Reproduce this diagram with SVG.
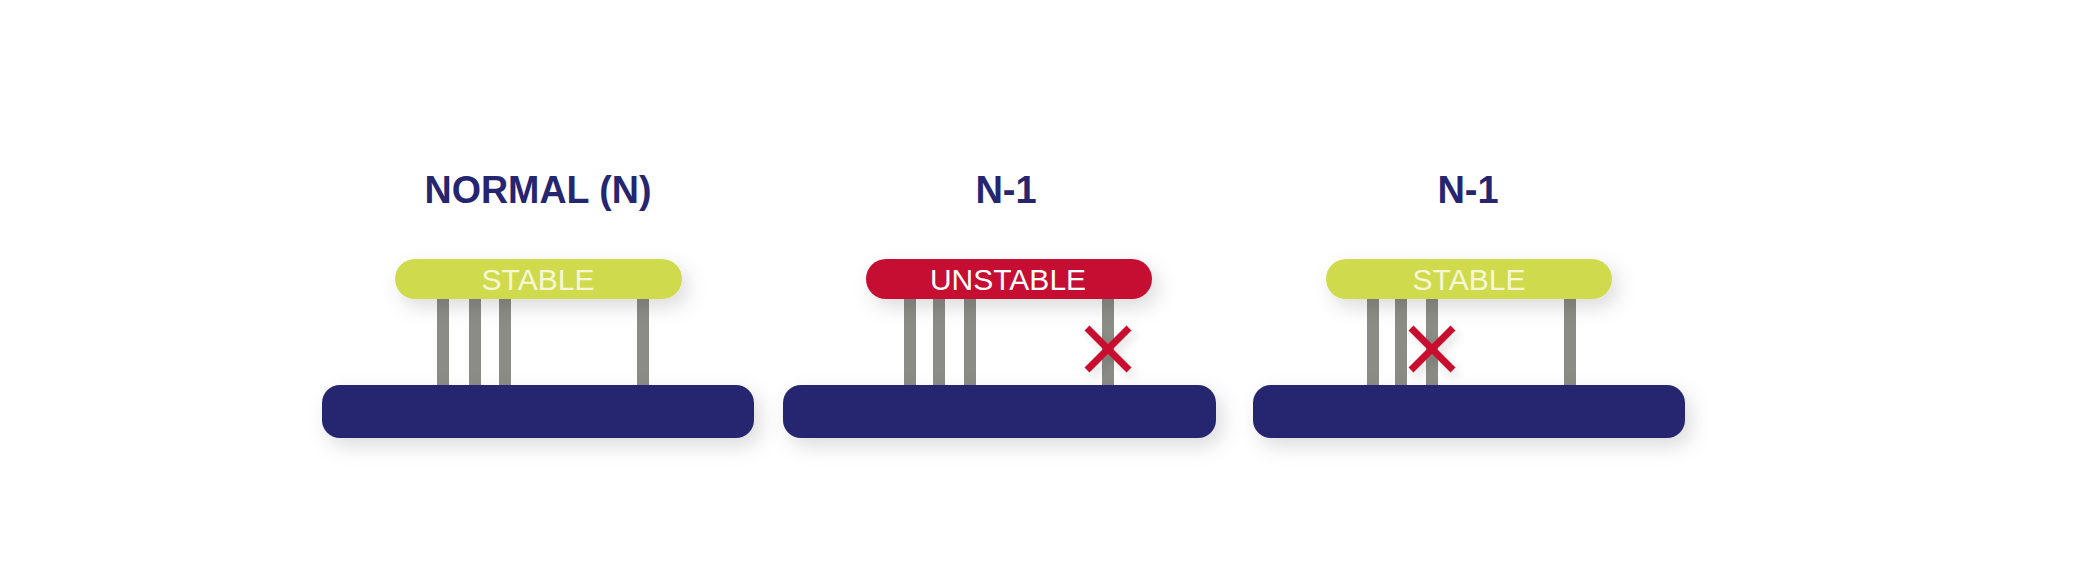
<svg xmlns="http://www.w3.org/2000/svg" width="2096" height="570" viewBox="0 0 2096 570">
  <defs>
    <filter id="shadow" x="-20%" y="-80%" width="140%" height="260%">
      <feDropShadow dx="6" dy="8" stdDeviation="10" flood-color="#000" flood-opacity="0.14"/>
    </filter>
    <filter id="shadowSm" x="-50%" y="-50%" width="200%" height="200%">
      <feDropShadow dx="4" dy="5" stdDeviation="5" flood-color="#000" flood-opacity="0.12"/>
    </filter>
  </defs>
  <style>
    .title { font-family: "Liberation Sans", Arial, sans-serif; font-weight: bold; font-size: 38px; fill: #25266f; text-anchor: middle; }
    .state { font-family: "Liberation Sans", Arial, sans-serif; font-size: 30px; text-anchor: middle; }
    .stable-bar { fill: #cfdb4e; }
    .unstable-bar { fill: #c60c30; }
    .base { fill: #25266f; }
    .post { fill: #8c8c87; }
    .cross { stroke: #c8102e; stroke-width: 7; stroke-linecap: butt; fill: none; }
  </style>
  <rect width="2096" height="570" fill="#ffffff"/>

  <g id="panel-normal">
    <text class="title" x="538" y="203" textLength="227" lengthAdjust="spacingAndGlyphs">NORMAL (N)</text>
    <g id="posts-normal">
      <rect class="post" x="437" y="295" width="12" height="92"/>
      <rect class="post" x="469" y="295" width="12" height="92"/>
      <rect class="post" x="499" y="295" width="12" height="92"/>
      <rect class="post" x="637" y="295" width="12" height="92"/>
    </g>
    <rect class="stable-bar" x="395" y="259" width="287" height="40" rx="20" filter="url(#shadow)"/>
    <text class="state" x="538" y="290" fill="#f7f7d8">STABLE</text>
    <rect class="base" x="322" y="385" width="432" height="53" rx="18" filter="url(#shadow)"/>
  </g>

  <g id="panel-n1-unstable">
    <text class="title" x="1006" y="203">N-1</text>
    <g id="posts-unstable">
      <rect class="post" x="904" y="295" width="12" height="92"/>
      <rect class="post" x="933" y="295" width="12" height="92"/>
      <rect class="post" x="964" y="295" width="12" height="92"/>
      <rect class="post" x="1102" y="295" width="12" height="92"/>
    </g>
    <rect class="unstable-bar" x="866" y="259" width="286" height="40" rx="20" filter="url(#shadow)"/>
    <text class="state" x="1008" y="290" fill="#ffffff">UNSTABLE</text>
    <rect class="base" x="783" y="385" width="433" height="53" rx="18" filter="url(#shadow)"/>
    <g filter="url(#shadowSm)">
      <path class="cross" d="M1087 328 L1129 370 M1129 328 L1087 370"/>
    </g>
  </g>

  <g id="panel-n1-stable">
    <text class="title" x="1468" y="203">N-1</text>
    <g id="posts-stable">
      <rect class="post" x="1367" y="295" width="12" height="92"/>
      <rect class="post" x="1395" y="295" width="12" height="92"/>
      <rect class="post" x="1426" y="295" width="12" height="92"/>
      <rect class="post" x="1564" y="295" width="12" height="92"/>
    </g>
    <rect class="stable-bar" x="1326" y="259" width="286" height="40" rx="20" filter="url(#shadow)"/>
    <text class="state" x="1469" y="290" fill="#f7f7d8">STABLE</text>
    <rect class="base" x="1253" y="385" width="432" height="53" rx="18" filter="url(#shadow)"/>
    <g filter="url(#shadowSm)">
      <path class="cross" d="M1411 328 L1453 370 M1453 328 L1411 370"/>
    </g>
  </g>
</svg>
